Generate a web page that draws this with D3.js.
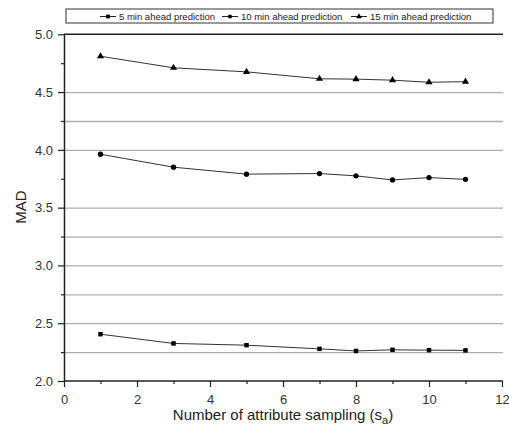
<!DOCTYPE html>
<html><head><meta charset="utf-8">
<script src="https://cdn.jsdelivr.net/npm/d3@7"></script>
<style>body{margin:0;background:#fff}svg{display:block;font-family:Arial,"Liberation Sans",sans-serif}</style>
</head><body>
<script>
const xs = [1, 3, 5, 7, 8, 9, 10, 11];
const min5 = [2.405, 2.325, 2.31, 2.278, 2.26, 2.27, 2.267, 2.265];
const min10 = [3.962, 3.85, 3.79, 3.795, 3.775, 3.74, 3.76, 3.745];
const min15 = [4.81, 4.71, 4.675, 4.615, 4.612, 4.603, 4.585, 4.59];
const seriesNames = ["5 min ahead prediction", "10 min ahead prediction", "15 min ahead prediction"];
const xTicks = [0, 2, 4, 6, 8, 10, 12];
const yTicks = [2.0, 2.5, 3.0, 3.5, 4.0, 4.5, 5.0];
const gridVals = [2.25, 2.5, 2.75, 3.0, 3.25, 3.5, 4.0, 4.25, 4.5];

const W = 509, H = 435;
const svg = d3.select("body").append("svg").attr("width", W).attr("height", H);
const x = d3.scaleLinear().domain([0, 12]).range([64, 502]);
const y = d3.scaleLinear().domain([2, 5]).range([381, 34.3]);

// grid via axis
const grid = svg.append("g").attr("class", "grid").attr("transform", "translate(64,0)")
  .call(d3.axisLeft(y).tickValues(gridVals).tickFormat("").tickSize(-439).tickSizeOuter(0));
grid.select(".domain").remove();
grid.selectAll(".tick line").attr("stroke", "#adadad").attr("stroke-width", 1.3);

// top line
svg.append("line").attr("x1", 64).attr("x2", 503).attr("y1", y(5)).attr("y2", y(5))
  .attr("stroke", "#222").attr("stroke-width", 1.5);

// axes
const xAxis = svg.append("g").attr("transform", `translate(0,${y(2)})`)
  .call(d3.axisBottom(x).tickValues(xTicks).tickFormat(d3.format("d")).tickSize(6).tickSizeOuter(0));
const xMinor = svg.append("g").attr("transform", `translate(0,${y(2)})`)
  .call(d3.axisBottom(x).tickValues(d3.range(1, 12, 2)).tickFormat("").tickSize(3).tickSizeOuter(0));
xMinor.select(".domain").remove();
const yAxis = svg.append("g").attr("transform", `translate(64,0)`)
  .call(d3.axisLeft(y).tickValues(yTicks).tickFormat(d3.format(".1f")).tickSize(6).tickSizeOuter(0));
const yMinor = svg.append("g").attr("transform", `translate(64,0)`)
  .call(d3.axisLeft(y).tickValues(d3.range(2.25, 5, 0.5)).tickFormat("").tickSize(3).tickSizeOuter(0));
yMinor.select(".domain").remove();
[xAxis, yAxis, xMinor, yMinor].forEach(g => {
  g.selectAll(".domain").attr("stroke", "#222").attr("stroke-width", 1.5);
  g.selectAll(".tick line").attr("stroke", "#222").attr("stroke-width", 1.2);
  g.selectAll("text").attr("font-size", 13).attr("fill", "#333").attr("font-family", "Arial, 'Liberation Sans', sans-serif");
});
xAxis.selectAll("text").attr("dy", "1.1em");
yAxis.selectAll("text").attr("x", -11);
xAxis.select(".domain").attr("d", `M64,0H503`);

// titles
svg.append("text").attr("transform", `translate(22,207) rotate(-90)`).attr("text-anchor", "middle")
  .attr("dominant-baseline", "middle").attr("font-size", 15).attr("fill", "#222").text("MAD");
const xt = svg.append("text").attr("x", 283).attr("y", 420).attr("text-anchor", "middle")
  .attr("font-size", 15).attr("fill", "#222");
xt.append("tspan").text("Number of attribute sampling (s");
xt.append("tspan").attr("font-size", 11).attr("dy", 4).text("a");
xt.append("tspan").attr("dy", -4).text(")");

// series
const data = [min5, min10, min15];
const line = d3.line().x((d, i) => x(xs[i])).y(d => y(d));
const sym = [d3.symbolSquare, d3.symbolCircle, d3.symbolTriangle];
const symSize = [20, 22, 22];
data.forEach((vals, k) => {
  svg.append("path").datum(vals).attr("d", line).attr("fill", "none")
    .attr("stroke", "#333").attr("stroke-width", 1);
  svg.append("g").selectAll("path").data(vals).join("path")
    .attr("transform", (d, i) => `translate(${x(xs[i])},${y(d)})`)
    .attr("d", d3.symbol().type(sym[k]).size(symSize[k])).attr("fill", "#000");
});

// legend
svg.append("rect").attr("x", 66).attr("y", 9).attr("width", 427).attr("height", 14)
  .attr("fill", "#fff").attr("stroke", "#333").attr("stroke-width", 1);
const legX = [100, 222, 351];
seriesNames.forEach((n, k) => {
  const g = svg.append("g");
  g.append("line").attr("x1", legX[k]).attr("x2", legX[k] + 16).attr("y1", 16.5).attr("y2", 16.5)
    .attr("stroke", "#222").attr("stroke-width", 1);
  g.append("path").attr("transform", `translate(${legX[k] + 8},16.5)`)
    .attr("d", d3.symbol().type(sym[k]).size(14)).attr("fill", "#000");
  g.append("text").attr("x", legX[k] + 19).attr("y", 16.5).attr("dominant-baseline", "central")
    .attr("font-size", 9.5).attr("fill", "#222").text(n);
});
</script>
</body></html>
